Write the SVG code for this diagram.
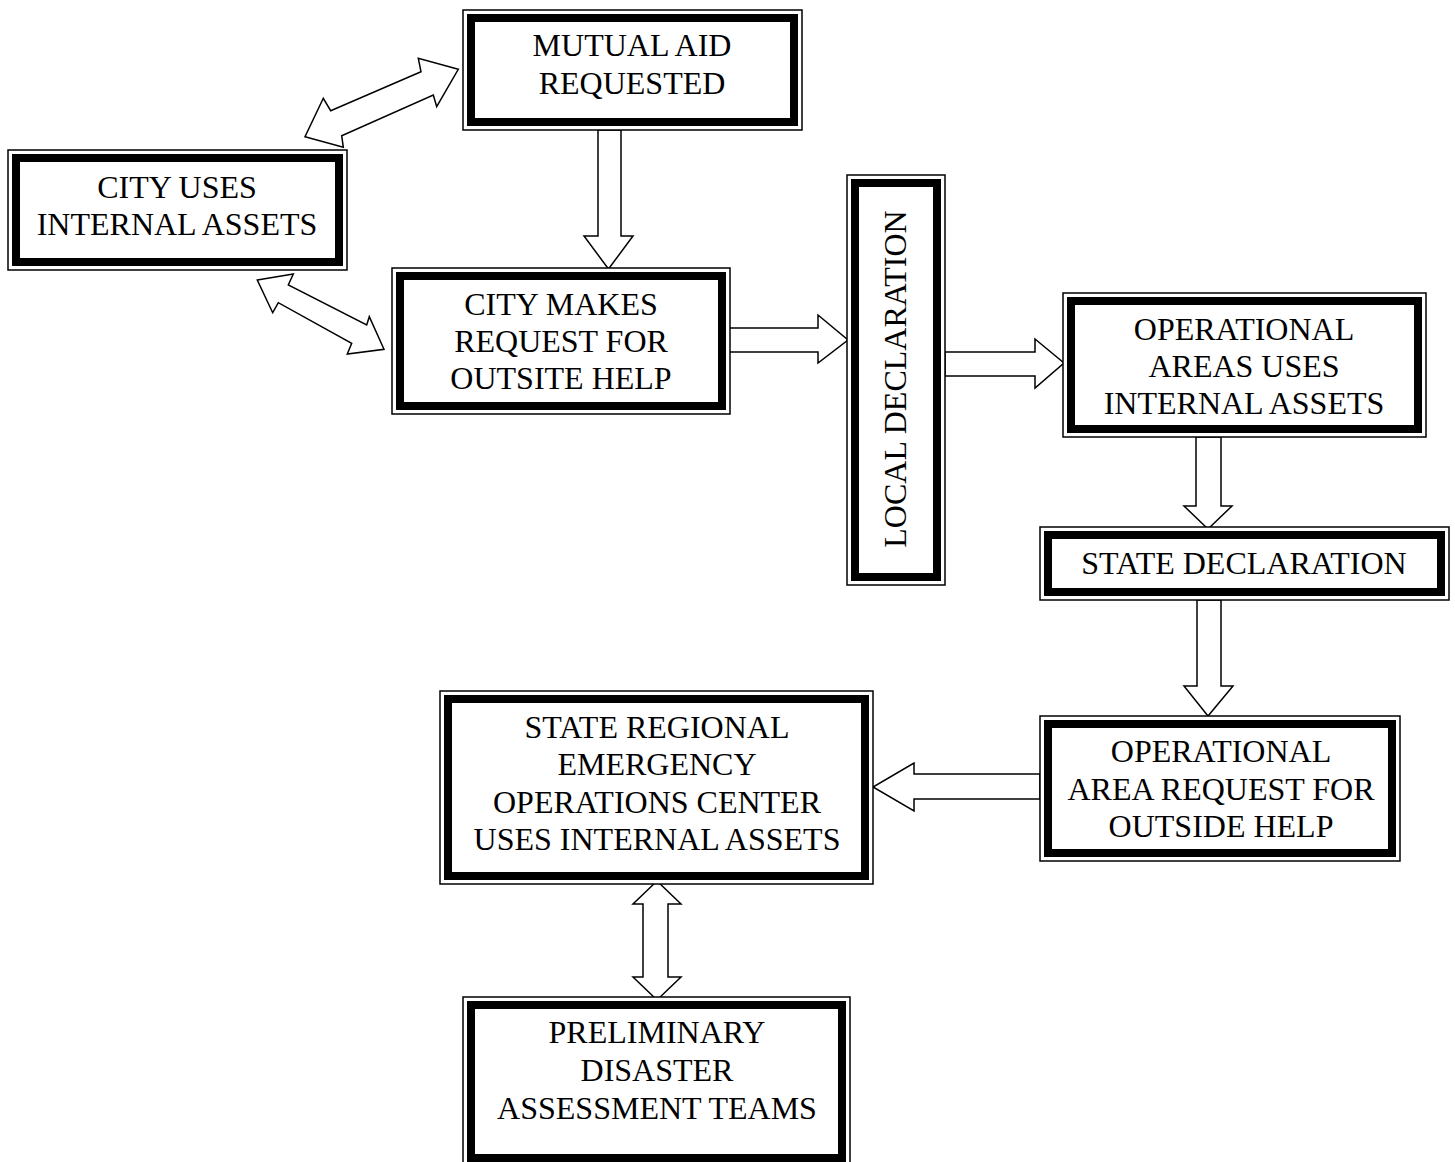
<svg xmlns="http://www.w3.org/2000/svg" width="1455" height="1162" viewBox="0 0 1455 1162">
  <style>
    .frame { fill: #ffffff; stroke: #000000; stroke-width: 1.5; }
    .thick { fill: none; stroke: #000000; stroke-width: 8; }
    .label { font-family: "Liberation Serif", "Times New Roman", serif; font-size: 32px; fill: #000000; text-anchor: middle; }
    .arrow { fill: #ffffff; stroke: #000000; stroke-width: 1.5; stroke-linejoin: miter; }
  </style>
  <rect x="0" y="0" width="1455" height="1162" fill="#ffffff"/>

  <!-- block arrows -->
  <g id="connectors">
    <polygon class="arrow" points="458.3,69.3 418.3,58.3 421,71.7 330.7,110.7 323.3,98.3 305,136.7 343.3,147.3 341.7,135.7 433.3,95 436.7,106.7"/>
    <polygon class="arrow" points="257.3,280 293.3,274 288.3,285 366.7,325 369.3,316.7 384,349.3 347.3,354 351.7,343.3 278.3,302.7 272.7,312.7"/>
    <polygon class="arrow" points="598,130 621,130 621,236 633,236 608.5,269 584,236 598,236"/>
    <polygon class="arrow" points="727,328 818,328 818,315 848,340 818,363 818,352 727,352"/>
    <polygon class="arrow" points="945,352 1035,352 1035,339 1064,363 1035,388 1035,376 945,376"/>
    <polygon class="arrow" points="1196,437 1221,437 1221,506 1232,506 1208,529 1184,506 1196,506"/>
    <polygon class="arrow" points="1197,600 1221,600 1221,686 1233,686 1208,716 1184,686 1197,686"/>
    <polygon class="arrow" points="1040,774 914,774 914,763 873,787 914,811 914,799 1040,799"/>
    <polygon class="arrow" points="657,881 681,904 668,904 668,977 681,977 657,1000 633,977 643,977 643,904 633,904"/>
  </g>

  <g id="mutual-aid">
    <rect class="frame" x="463" y="10" width="339" height="120"/>
    <rect class="thick" x="471" y="18" width="323" height="104"/>
    <text class="label" x="632" y="56">MUTUAL AID</text>
    <text class="label" x="632" y="94">REQUESTED</text>
  </g>

  <g id="city-internal">
    <rect class="frame" x="8" y="150" width="339" height="120"/>
    <rect class="thick" x="16" y="158" width="323" height="104"/>
    <text class="label" x="177" y="198">CITY USES</text>
    <text class="label" x="177" y="235">INTERNAL ASSETS</text>
  </g>

  <g id="city-request">
    <rect class="frame" x="392" y="268" width="338" height="146"/>
    <rect class="thick" x="400" y="276" width="322" height="130"/>
    <text class="label" x="561" y="315">CITY MAKES</text>
    <text class="label" x="561" y="352">REQUEST FOR</text>
    <text class="label" x="561" y="389">OUTSITE HELP</text>
  </g>

  <g id="local-declaration">
    <rect class="frame" x="847" y="175" width="98" height="410"/>
    <rect class="thick" x="855" y="183" width="82" height="394"/>
    <text class="label" transform="translate(906,379) rotate(-90)" x="0" y="0">LOCAL DECLARATION</text>
  </g>

  <g id="op-areas-internal">
    <rect class="frame" x="1063" y="293" width="363" height="144"/>
    <rect class="thick" x="1071" y="301" width="347" height="128"/>
    <text class="label" x="1244" y="340">OPERATIONAL</text>
    <text class="label" x="1244" y="377">AREAS USES</text>
    <text class="label" x="1244" y="414">INTERNAL ASSETS</text>
  </g>

  <g id="state-declaration">
    <rect class="frame" x="1040" y="527" width="409" height="73"/>
    <rect class="thick" x="1048" y="535" width="393" height="57"/>
    <text class="label" x="1244" y="574">STATE DECLARATION</text>
  </g>

  <g id="op-area-request">
    <rect class="frame" x="1040" y="716" width="360" height="145"/>
    <rect class="thick" x="1048" y="724" width="344" height="129"/>
    <text class="label" x="1221" y="762">OPERATIONAL</text>
    <text class="label" x="1221" y="800">AREA REQUEST FOR</text>
    <text class="label" x="1221" y="837">OUTSIDE HELP</text>
  </g>

  <g id="state-regional-eoc">
    <rect class="frame" x="440" y="691" width="433" height="193"/>
    <rect class="thick" x="448" y="699" width="417" height="177"/>
    <text class="label" x="657" y="738">STATE REGIONAL</text>
    <text class="label" x="657" y="775">EMERGENCY</text>
    <text class="label" x="657" y="813">OPERATIONS CENTER</text>
    <text class="label" x="657" y="850">USES INTERNAL ASSETS</text>
  </g>

  <g id="assessment-teams">
    <rect class="frame" x="463" y="997" width="387" height="169"/>
    <rect class="thick" x="471" y="1005" width="371" height="153"/>
    <text class="label" x="657" y="1043">PRELIMINARY</text>
    <text class="label" x="657" y="1081">DISASTER</text>
    <text class="label" x="657" y="1119">ASSESSMENT TEAMS</text>
  </g>
</svg>
